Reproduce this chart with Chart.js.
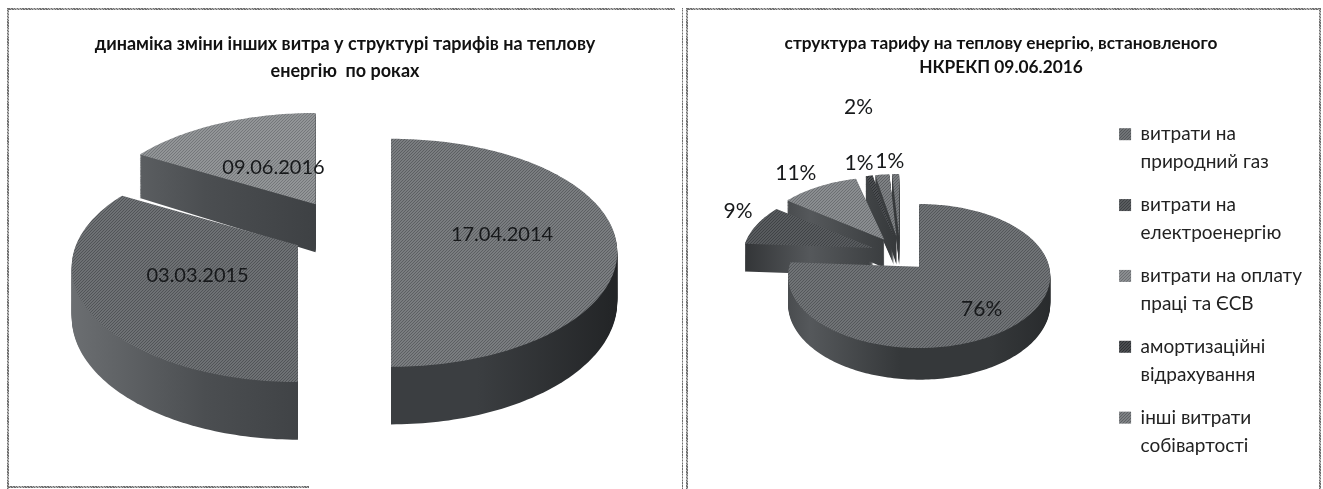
<!DOCTYPE html>
<html lang="uk">
<head>
<meta charset="utf-8">
<title>Тарифи на теплову енергію</title>
<script src="https://cdn.jsdelivr.net/npm/chart.js@4"></script>
<style>
  html, body { margin: 0; padding: 0; background: #fff; overflow: hidden; }
  #page { position: relative; width: 1323px; height: 489px; overflow: hidden; }
  .box { position: absolute; top: 0; height: 489px; }
  .line { position: absolute; background: repeating-linear-gradient(45deg, #6e6e6e 0 1px, #b4b4b4 1px 2px); }
</style>
</head>
<body>
<div id="page">
  <div class="line" style="left:7px;top:8px;width:668px;height:2px"></div>
  <div class="line" style="left:7px;top:8px;width:2px;height:481px"></div>
  <div class="line" style="left:9px;top:486px;width:300px;height:2px"></div>
  <div class="line" style="left:682px;top:8px;width:1px;height:481px"></div>
  <div class="line" style="left:686px;top:8px;width:634px;height:2px"></div>
  <div class="line" style="left:686px;top:8px;width:2px;height:481px"></div>
  <div class="line" style="left:1319px;top:8px;width:2px;height:481px"></div>
  <div class="box" style="left:0;width:690px"><canvas id="leftPie"></canvas></div>
  <div class="box" style="left:690px;width:640px"><canvas id="rightPie"></canvas></div>
</div>
<script>
// ліва діаграма
const yearCategories = ['17.04.2014', '03.03.2015', '09.06.2016'];
const yearValues = [50, 33, 17];

// права діаграма
const tariffCategories = [
  ['витрати на', 'природний газ'],
  ['витрати на', 'електроенергію'],
  ['витрати на оплату', 'праці та ЄСВ'],
  ['амортизаційні', 'відрахування'],
  ['інші витрати', 'собівартості']
];
const tariffValues = [76, 9, 11, 1, 2, 1];

// dither like the scan
function dither(light, dark) {
  const c = document.createElement('canvas');
  c.width = 3; c.height = 3;
  const g = c.getContext('2d');
  g.fillStyle = light;
  g.fillRect(0, 0, 3, 3);
  g.fillStyle = dark;
  for (let i = 0; i < 3; i++) g.fillRect(i, (i * 2) % 3, 1, 1);
  return g.createPattern(c, 'repeat');
}

// pie drawn lying down: arc angles come from the chart, this only projects them
function lyingPie(view) {
  function project(arc, angle, f, drop) {
    const mid = (arc.startAngle + arc.endAngle) / 2;
    const off = arc.options.offset || 0;
    const u = Math.cos(angle) * f;
    const v = Math.sin(angle) * f;
    const s = 1 + view.persp * v;
    return {
      x: view.cx + view.rx * u * s + off * Math.cos(mid),
      y: view.cy + view.ry * v * s + off * Math.sin(mid) * view.offY + drop * s
    };
  }
  function sector(ctx, arc, drop) {
    const p0 = project(arc, arc.startAngle, 0, drop);
    ctx.beginPath();
    ctx.moveTo(p0.x, p0.y);
    const steps = Math.max(2, Math.ceil((arc.endAngle - arc.startAngle) / 0.02));
    for (let i = 0; i <= steps; i++) {
      const a = arc.startAngle + (arc.endAngle - arc.startAngle) * i / steps;
      const p = project(arc, a, 1, drop);
      ctx.lineTo(p.x, p.y);
    }
    ctx.closePath();
  }
  return {
    id: 'lyingPie',
    beforeDatasetsDraw(chart) {
      const ctx = chart.ctx;
      const arcs = chart.getDatasetMeta(0).data;
      const order = arcs.map((a, i) => i).sort((a, b) => {
        const ma = (arcs[a].startAngle + arcs[a].endAngle) / 2;
        const mb = (arcs[b].startAngle + arcs[b].endAngle) / 2;
        return Math.sin(ma) - Math.sin(mb);
      });
      const wall = ctx.createLinearGradient(view.cx - view.rx - 50, 0, view.cx + view.rx + 50, 0);
      view.wall.forEach((c, i) => wall.addColorStop(i / (view.wall.length - 1), c));
      ctx.save();
      order.forEach(i => {
        const arc = arcs[i];
        ctx.fillStyle = wall;
        for (let d = view.depth; d > 0; d--) {
          sector(ctx, arc, d);
          ctx.fill();
        }
        sector(ctx, arc, 0);
        ctx.fillStyle = arc.options.backgroundColor;
        ctx.fill();
      });
      ctx.fillStyle = '#17191b';
      ctx.font = view.labelFont;
      ctx.textAlign = 'center';
      ctx.textBaseline = 'middle';
      arcs.forEach((arc, i) => {
        const mid = (arc.startAngle + arc.endAngle) / 2;
        const p = project(arc, mid, view.labelRadius[i], 0);
        ctx.fillText(view.labels[i], p.x + view.labelNudge[i][0], p.y + view.labelNudge[i][1]);
      });
      ctx.restore();
      return false;
    }
  };
}

const sum = arr => arr.reduce((a, b) => a + b, 0);

new Chart(document.getElementById('leftPie'), {
  type: 'pie',
  data: {
    labels: yearCategories,
    datasets: [{
      data: yearValues,
      offset: 50,
      borderWidth: 0,
      backgroundColor: [dither('#7a7d80', '#5c5f62'), dither('#6e7174', '#515457'), dither('#929597', '#74777a')]
    }]
  },
  options: {
    responsive: true,
    maintainAspectRatio: false,
    animation: false,
    plugins: {
      legend: { display: false },
      tooltip: { enabled: false },
      title: {
        display: true,
        text: ['динаміка зміни інших витра у структурі тарифів на теплову', 'енергію  по роках'],
        color: '#111',
        font: { family: 'Lato', weight: 'bold', size: 18, lineHeight: 1.5 },
        padding: { top: 31, bottom: 10 }
      }
    }
  },
  plugins: [lyingPie({
    cx: 341, cy: 230, rx: 222, ry: 114, persp: 0.2, depth: 48, offY: 0.6,
    wall: ['#6c6f72', '#4b4e51', '#3b3e41', '#3b3e41', '#232527'],
    labels: yearCategories,
    labelFont: '20px Lato',
    labelRadius: [0.5, 0.5, 0.4],
    labelNudge: [[0, 5], [0, 0], [0, 0]]
  })]
});

new Chart(document.getElementById('rightPie'), {
  type: 'pie',
  data: {
    labels: tariffCategories,
    datasets: [{
      data: tariffValues,
      offset: 28,
      borderWidth: 0,
      backgroundColor: [
        dither('#707376', '#54575a'),
        dither('#585b5e', '#3f4245'),
        dither('#8a8d90', '#6c6f72'),
        dither('#4a4d50', '#2e3033'),
        dither('#7e8184', '#5e6164'),
        dither('#7a7d80', '#5c5f62')
      ]
    }]
  },
  options: {
    responsive: true,
    maintainAspectRatio: false,
    animation: false,
    layout: { padding: { right: 18, bottom: 10 } },
    plugins: {
      tooltip: { enabled: false },
      title: {
        display: true,
        text: ['структура тарифу на теплову енергію, встановленого', 'НКРЕКП 09.06.2016'],
        color: '#111',
        font: { family: 'Lato', weight: 'bold', size: 17.3, lineHeight: 1.4 },
        padding: { top: 31, bottom: 10 }
      },
      legend: {
        position: 'right',
        align: 'end',
        labels: {
          color: '#222',
          font: { family: 'Lato', size: 19, lineHeight: 1.47 },
          boxWidth: 12,
          boxHeight: 12,
          padding: 15
        }
      }
    }
  },
  plugins: [lyingPie({
    cx: 210, cy: 254, rx: 130, ry: 72, persp: 0.13, depth: 28, offY: 0.62,
    wall: ['#26282a', '#55585b', '#35383a', '#35383a', '#232527'],
    labels: tariffValues.map(v => Math.round(v / sum(tariffValues) * 100) + '%'),
    labelFont: '21px Lato',
    labelRadius: [0.72, 1.15, 1.22, 1.25, 1.85, 1.25],
    labelNudge: [[-6, 2], [-2, -10], [-11, -3], [-5, 0], [-15, -29], [-5, 0]]
  })]
});
</script>
</body>
</html>
